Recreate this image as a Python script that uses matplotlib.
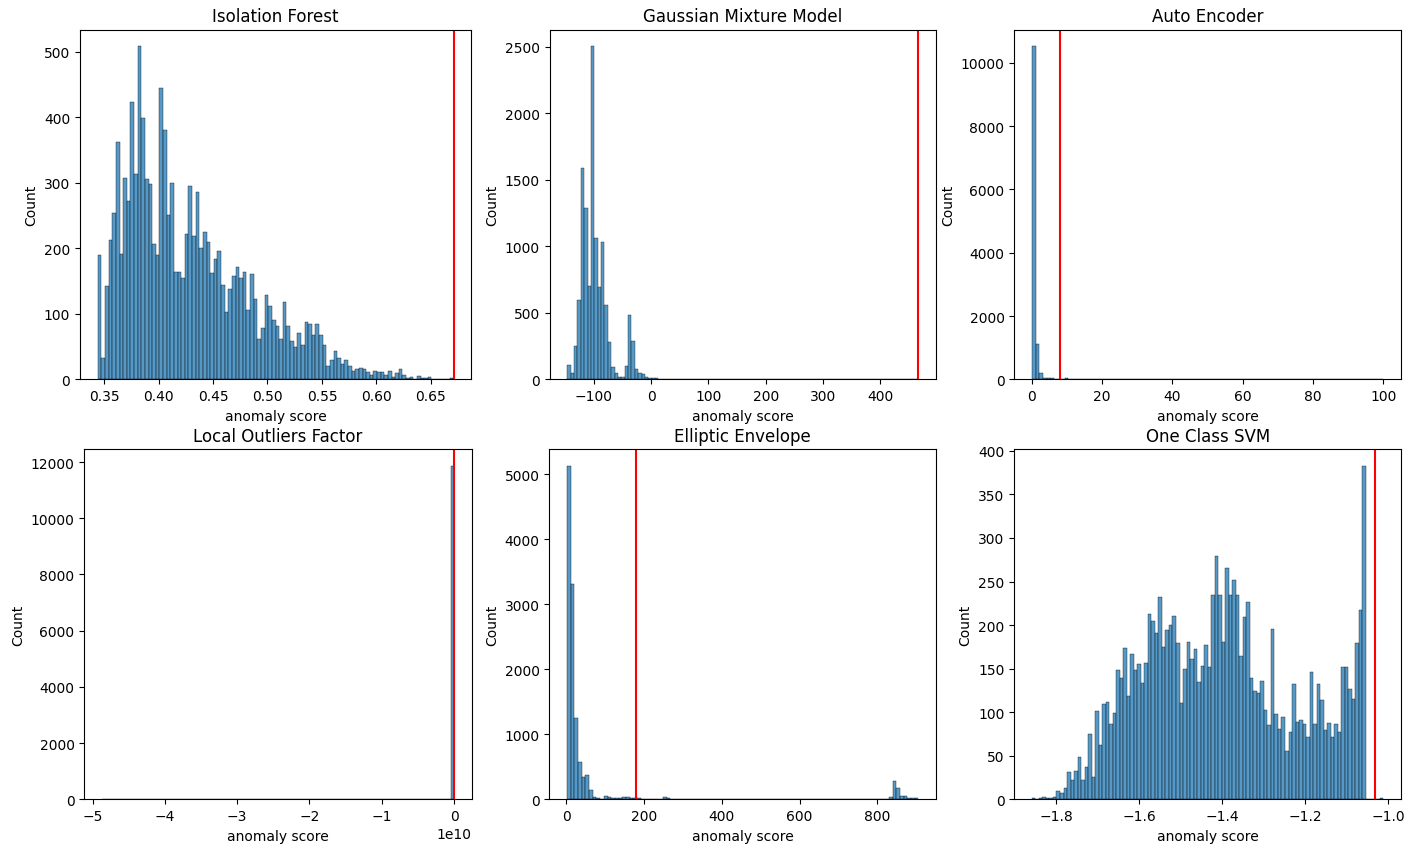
import numpy as np
import pandas as pd
import matplotlib
matplotlib.use("Agg")
import matplotlib.pyplot as plt
import seaborn as sns

# titles, in panel order
titles = ["Isolation Forest", "Gaussian Mixture Model", "Auto Encoder",
          "Local Outliers Factor", "Elliptic Envelope", "One Class SVM"]

# bin ranges (min, max, n_bins)
iso_range = (0.3442, 0.6705, 98)
gmm_range = (-146.4, 466.3, 104)
ae_range = (0.0, 100.0, 96)
lof_range = (-4.87e10, 0.0, 105)
ee_range = (1.0, 906.0, 95)
svm_range = (-1.859, -1.012, 100)

# counts per bin
iso_counts = [190, 32, 142, 213, 253, 362, 191, 307, 272, 423, 313, 508, 398, 306,
              298, 207, 190, 445, 380, 251, 299, 164, 163, 154, 222, 295, 219, 286,
              201, 224, 209, 162, 184, 196, 144, 103, 138, 158, 172, 154, 163, 105,
              160, 122, 61, 79, 129, 112, 90, 82, 62, 118, 82, 59, 49, 70, 53, 87,
              84, 67, 85, 67, 53, 21, 29, 43, 32, 23, 29, 21, 12, 15, 17, 15, 11, 6,
              12, 11, 11, 6, 12, 3, 9, 15, 6, 2, 3, 0, 5, 2, 2, 3, 1, 0, 0, 0, 0, 2]

gmm_counts = [107, 47, 250, 599, 1589, 1290, 699, 2502, 1065, 691, 1028, 561, 279,
              92, 47, 17, 17, 100, 481, 287, 77, 47, 40, 17, 10, 10, 8, 5, 5, 3, 5,
              4, 2, 0, 0, 3, 2, 0, 0, 4, 5, 3] + [0] * 61 + [1]

ae_counts = [10525, 1112, 199, 42, 42, 42, 2, 2, 1, 31] + [0] * 85 + [3]

lof_counts = [1] + [0] * 87 + [8] + [0] * 11 + [10, 0, 15, 0, 11870]

ee_counts = [5133, 3306, 1249, 573, 338, 368, 143, 31, 15, 10, 51, 36, 20, 20, 20,
             36, 36, 20, 20, 25, 0, 0, 0, 0, 0, 0, 36, 15] + [0] * 59 + \
            [31, 276, 169, 51, 51, 15, 15, 15]

svm_counts = [2, 0, 1, 3, 1, 2, 3, 10, 7, 13, 31, 22, 32, 49, 22, 37, 75, 26, 101, 62,
              109, 112, 86, 99, 148, 139, 174, 119, 167, 149, 155, 134, 156, 213, 205,
              191, 232, 175, 194, 200, 210, 179, 111, 150, 181, 161, 172, 135, 153,
              177, 152, 234, 279, 234, 181, 266, 234, 252, 234, 164, 209, 226, 139,
              124, 122, 136, 103, 85, 195, 98, 81, 95, 56, 77, 132, 89, 91, 86, 72,
              146, 87, 132, 114, 80, 88, 71, 86, 77, 152, 152, 127, 115, 179, 217,
              383, 0, 0, 0, 0, 2]

# thresholds (red lines)
thresholds = [0.6711, 466.0, 7.9, -0.001e10, 178.7, -1.033]

ranges = [iso_range, gmm_range, ae_range, lof_range, ee_range, svm_range]
counts = [iso_counts, gmm_counts, ae_counts, lof_counts, ee_counts, svm_counts]

W, H = 1415, 853
# axes boxes in pixels: x0, x1, y_top, y_bottom
boxes = [(80, 471, 30.7, 380.3), (549.7, 936, 30.7, 380.3), (1014.3, 1401, 30.7, 380.3),
         (84.3, 471.7, 450, 800.3), (549.3, 936, 450, 800.3), (1014.3, 1401, 450, 800.3)]

fig, axes = plt.subplots(2, 3, figsize=(14.15, 8.53), dpi=100)

for ax, box, title, (lo, hi, n), c, thr in zip(axes.flat, boxes, titles, ranges,
                                               counts, thresholds):
    x0, x1, yt, yb = box
    ax.set_position([x0 / W, 1 - yb / H, (x1 - x0) / W, (yb - yt) / H])
    edges = np.linspace(lo, hi, n + 1)
    df = pd.DataFrame({"score": (edges[:-1] + edges[1:]) / 2,
                       "n": np.array(c, dtype=float)})
    sns.histplot(data=df, x="score", weights="n", bins=list(edges), ax=ax)
    ax.axvline(thr, color="red")
    ax.set_title(title)
    ax.set_xlabel("anomaly score")

plt.savefig("out.png", dpi=100)
